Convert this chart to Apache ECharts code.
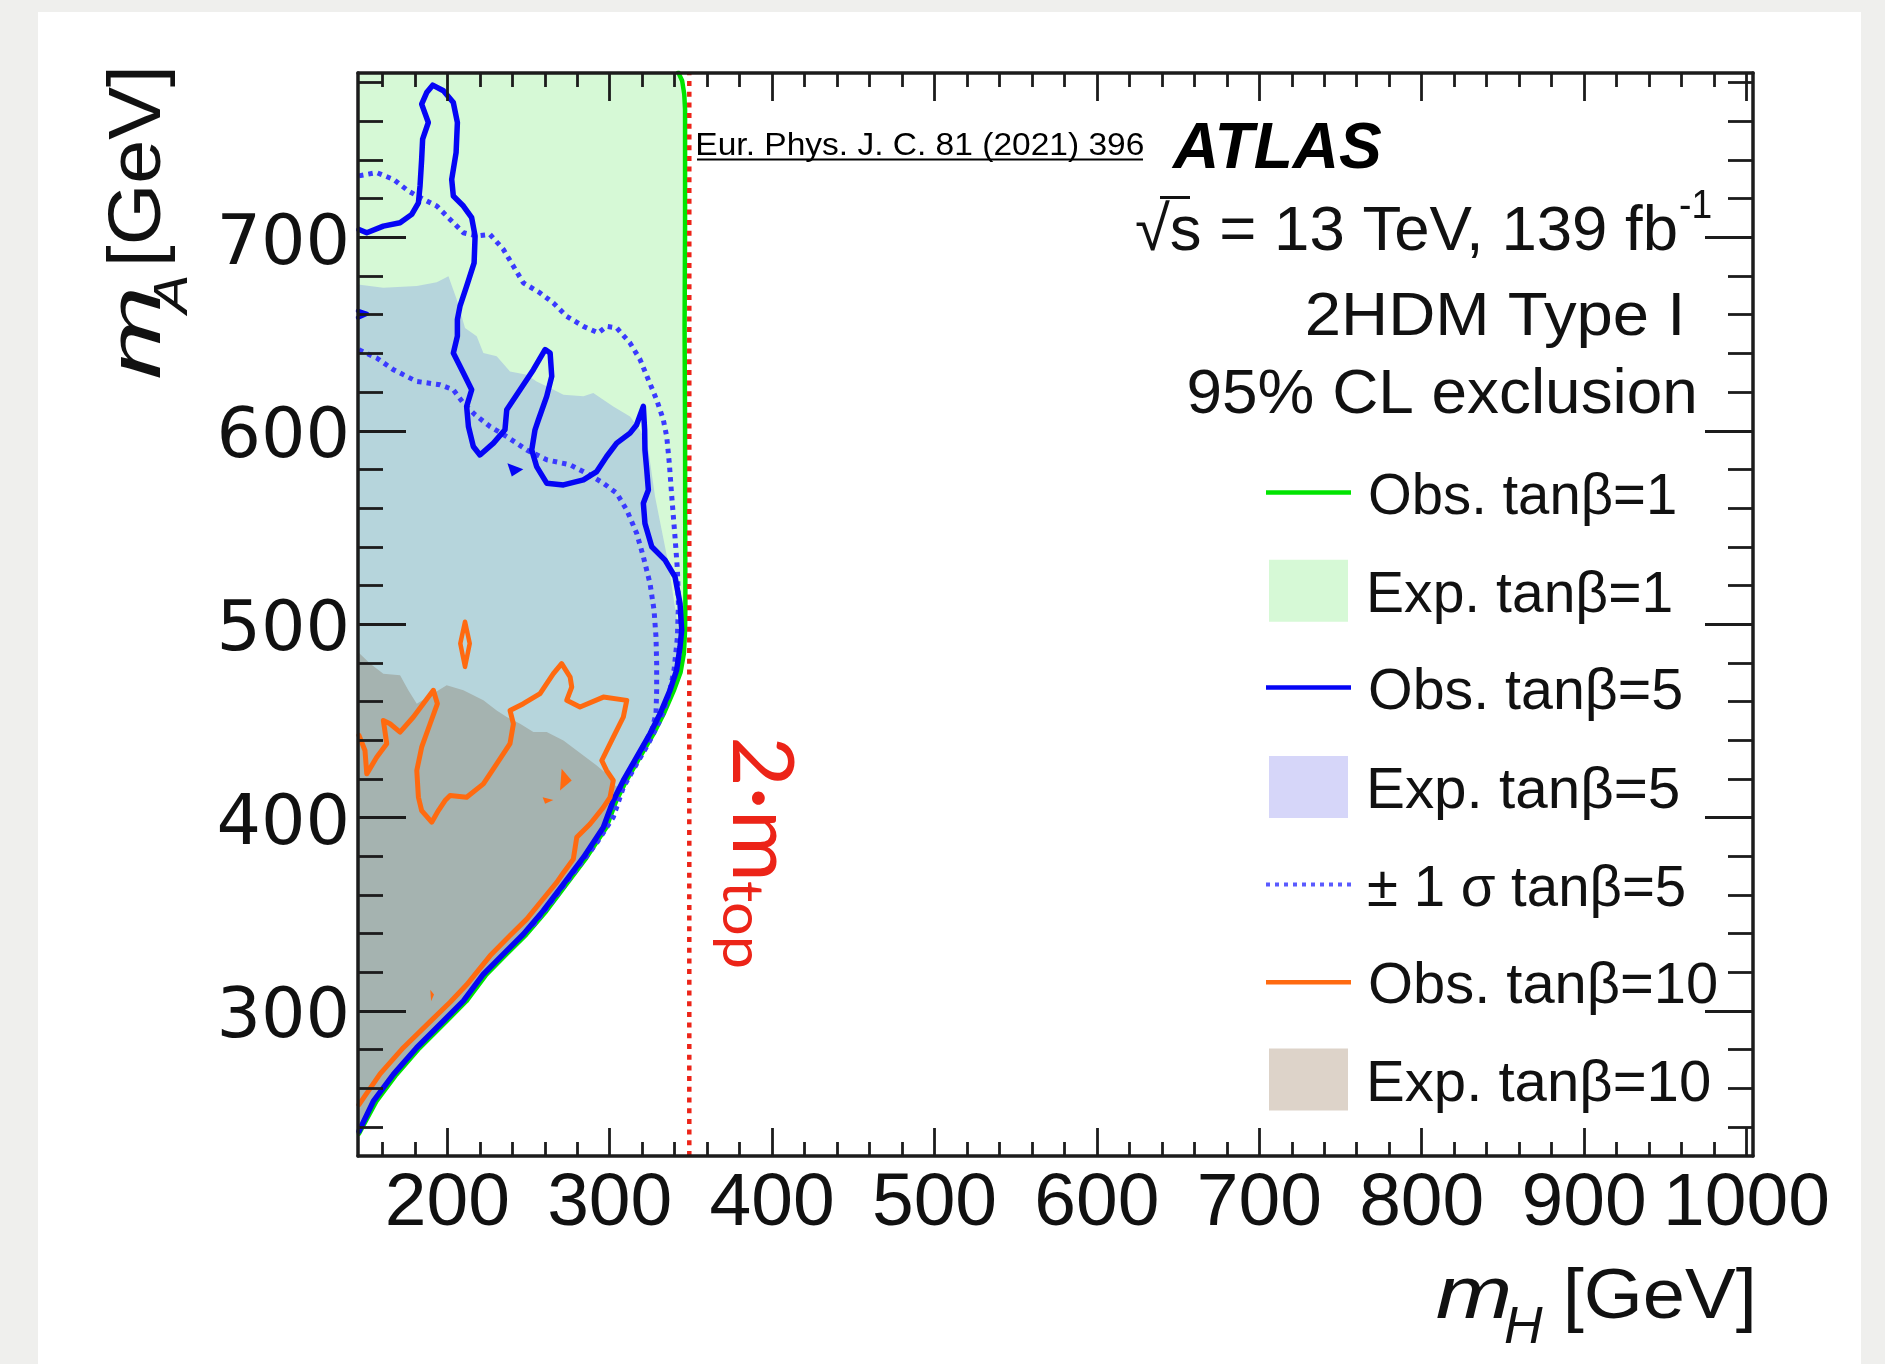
<!DOCTYPE html>
<html>
<head>
<meta charset="utf-8">
<title>2HDM Type I exclusion</title>
<script src="https://cdn.jsdelivr.net/npm/echarts@6.0.0/dist/echarts.min.js"></script>
<style>
html,body{margin:0;padding:0;background:#efefed;}
#chart{width:1885px;height:1364px;}
</style>
</head>
<body>
<div id="chart"></div>
<script>
// ---------------- axes ----------------
const xRange = [145, 1004];
const yRange = [225, 785];
const xMajorTicks = [200, 300, 400, 500, 600, 700, 800, 900, 1000];
const xMinorTicks = [160, 180, 220, 240, 260, 280, 320, 340, 360, 380, 420, 440, 460, 480, 520, 540, 560, 580,
  620, 640, 660, 680, 720, 740, 760, 780, 820, 840, 860, 880, 920, 940, 960, 980];
const yMajorTicks = [300, 400, 500, 600, 700];
const yMinorTicks = [240, 260, 280, 320, 340, 360, 380, 420, 440, 460, 480, 520, 540, 560, 580,
  620, 640, 660, 680, 720, 740, 760, 780];

// ---------------- data (m_H, m_A) in GeV ----------------
const twoMtopLine = [[349, 225], [349, 785]];

const obsTanb1 = [[342.2, 785.3], [344.6, 781], [345.9, 774], [346.4, 766], [346.4, 705.8], [346.1, 654], [346.4, 600.5],
  [346.5, 548.7], [346.6, 510], [346.4, 497], [345.7, 485], [343.6, 475], [339.4, 465.5], [333.2, 453.5], [326.8, 443],
  [318.4, 431], [310.2, 419], [304, 408.6], [297.9, 394.8], [285.6, 379.2], [273.3, 365.4], [260.9, 351.6], [248.6, 339.5],
  [236.3, 329.2], [224, 318.8], [211.7, 305], [199.4, 294.6], [182.9, 280.8], [168.6, 267], [156.3, 253.2], [145.6, 236.6]];

const expTanb1Region = [[145, 785.3], [342.2, 785.3], [344.6, 781], [345.9, 774], [346.4, 766], [346.4, 705.8], [346.1, 654],
  [346.4, 600.5], [346.5, 548.7], [346.6, 510], [346.4, 497], [345.7, 485], [343.6, 475], [339.4, 465.5], [333.2, 453.5],
  [326.8, 443], [318.4, 431], [310.2, 419], [304, 408.6], [297.9, 394.8], [285.6, 379.2], [273.3, 365.4], [260.9, 351.6],
  [248.6, 339.5], [236.3, 329.2], [224, 318.8], [211.7, 305], [199.4, 294.6], [182.9, 280.8], [168.6, 267], [156.3, 253.2],
  [145, 236.6]];

const expTanb5Region = [[145, 675.6], [160.6, 673.9], [181.2, 674.8], [193.5, 676.8], [200.7, 679.9], [205.8, 667.9],
  [210.9, 653.2], [218.1, 648.9], [222.2, 640.2], [230.4, 638.5], [238.6, 630.7], [248.9, 629.0], [255.0, 625.5],
  [263.3, 622.1], [271.5, 618.6], [283.8, 617.8], [289.9, 619.5], [302.2, 612.6], [312.5, 607.4], [318.7, 600.5],
  [323.8, 590.1], [327.9, 566.0], [332.0, 548.7], [336.1, 531.4], [339.2, 514.1], [342.3, 496.9], [344.0, 482],
  [343.6, 475], [339.4, 465.5], [333.2, 453.5], [326.8, 443], [318.4, 431], [310.2, 419], [304, 408.6], [297.9, 394.8],
  [285.6, 379.2], [273.3, 365.4], [260.9, 351.6], [248.6, 339.5], [236.3, 329.2], [224, 318.8], [211.7, 305],
  [199.4, 294.6], [182.9, 280.8], [168.6, 267], [156.3, 253.2], [145, 236.6]];

const expTanb10Region = [[145, 485.6], [152.4, 479.6], [160.6, 474.4], [170.9, 473.6], [176.0, 465.8], [181.2, 458.9],
  [191.4, 464.1], [199.6, 468.4], [209.9, 465.8], [222.2, 460.6], [230.4, 455.4], [236.6, 452.0], [244.8, 448.5],
  [253.0, 444.2], [261.2, 444.2], [271.5, 439.9], [283.8, 432.1], [292.0, 426.9], [299.2, 421.7], [303.5, 416.5],
  [307.5, 414.5], [304, 408.6], [297.9, 394.8], [285.6, 379.2], [273.3, 365.4], [260.9, 351.6], [248.6, 339.5],
  [236.3, 329.2], [224, 318.8], [211.7, 305], [199.4, 294.6], [182.9, 280.8], [168.6, 267], [156.3, 253.2], [145, 236.6]];

const obsTanb5 = [[145.6, 704.1], [150.4, 702.4], [160.6, 705.8], [170.9, 707.6], [178.1, 711.9], [182.2, 717.9],
  [183.2, 726.6], [184.2, 740.4], [184.8, 750.8], [188.3, 759.4], [184.2, 768.9], [187.3, 774.9], [191.0, 778.7],
  [197.6, 775.8], [203.7, 769.7], [206.2, 759.4], [205.4, 743.8], [202.7, 730.0], [203.7, 721.4], [209.9, 716.2],
  [215.0, 710.2], [217.1, 700.7], [216.5, 686.8], [211.9, 674.8], [207.8, 664.4], [206.2, 657.5], [206.2, 648.9],
  [203.7, 640.2], [209.9, 629.9], [215.0, 621.2], [211.9, 612.6], [213.0, 602.2], [216.0, 591.9], [220.1, 587.5],
  [228.4, 593.6], [235.5, 600.5], [236.6, 610.9], [244.8, 621.2], [253.0, 631.6], [260.2, 642.0], [263.3, 640.2],
  [264.3, 628.1], [261.2, 617.8], [256.1, 605.7], [254.0, 600.5], [252.0, 590.1], [255.0, 581.5], [261.2, 572.9],
  [271.5, 572.0], [283.8, 574.6], [292.0, 578.9], [298.1, 586.7], [304.3, 593.6], [312.5, 598.8], [316.5, 603],
  [320.7, 612.6], [321.5, 600.5], [321.7, 590.1], [322.8, 579.8], [323.8, 569.4], [320.7, 562.5], [321.7, 552.1],
  [325.9, 540.0], [334.1, 533.1], [340.2, 524.5], [343.3, 510.7], [344.3, 496.9], [343.3, 488.2], [341.2, 476.2],
  [337.1, 465.8], [331.0, 453.7], [324.8, 443.3], [316.6, 431.2], [308.4, 419.2], [302.2, 408.8], [296.1, 395.0],
  [283.8, 379.4], [271.5, 365.6], [259.1, 351.8], [246.8, 339.7], [234.5, 329.4], [222.2, 319.0], [209.9, 305.2],
  [197.6, 294.8], [181.1, 281.0], [166.8, 267.2], [154.5, 253.4], [145.6, 237.8]];
const obsTanb5EdgeBit = [[145, 662], [150.5, 660.5], [145, 658.5]];
const obsTanb5Island = [[237.0, 583.2], [246.8, 580.1], [239.7, 576.3]];

const sigmaUpTanb5 = [[145.6, 731.8], [156.5, 733.5], [166.8, 730.0], [176.0, 724.0], [185.3, 719.7], [193.5, 716.2],
  [201.7, 709.3], [209.9, 702.4], [218.1, 700.7], [226.3, 701.5], [234.5, 693.8], [240.7, 685.1], [246.8, 676.5],
  [257.1, 671.3], [265.3, 666.1], [273.5, 659.2], [283.8, 654.0], [293.0, 650.6], [298.1, 654.0], [304.3, 653.2],
  [312.5, 645.4], [318.7, 636.8], [323.8, 626.4], [328.9, 616.0], [333.0, 605.7], [335.1, 597.0], [336.7, 583.2],
  [338.2, 566.0], [340.2, 545.2], [341.7, 528.0], [342.3, 510.7], [341.7, 493.4], [339.6, 476.1], [336.1, 462.3],
  [331.0, 450.3], [323.8, 438.2], [316.6, 427.8], [308.4, 415.7], [302.2, 400.2], [291.5, 386.3], [277.2, 370.8],
  [264.8, 357.0], [252.5, 344]];
const sigmaDownTanb5 = [[145.6, 641.9], [156.5, 637.6], [166.8, 631.6], [181.2, 625.5], [195.5, 623.8], [203.7, 621.2],
  [209.9, 614.3], [217.1, 608.3], [226.3, 602.2], [236.6, 597.0], [248.9, 590.1], [261.2, 585.0], [275.6, 582.4],
  [285.8, 578.0], [296.1, 572.9], [304.3, 567.7], [310.5, 559.0], [316.6, 547.0], [320.7, 534.9], [324.8, 521.1],
  [327.3, 507.2], [328.5, 493.4], [328.9, 479.6], [328.9, 465.8], [328.5, 453.7], [325.9, 445.1], [320, 436], [313, 425]];

const obsTanb10 = [[145.6, 442.5], [149.3, 434.7], [150.4, 422.6], [156.5, 431.2], [162.7, 438.2], [160.6, 450.2],
  [164.7, 448.5], [170.9, 444.2], [179.1, 452.0], [191.4, 465.8], [193.9, 458.9], [189.4, 448.5], [184.2, 436.4],
  [181.2, 424.3], [182.2, 410.5], [184.2, 403.6], [190.4, 397.6], [194.5, 403.6], [198.6, 408.8], [201.7, 411.4],
  [211.9, 410.5], [222.2, 417.4], [230.4, 427.8], [238.6, 438.2], [240.7, 448.5], [238.6, 455.4], [246.8, 458.9],
  [257.1, 464.1], [265.3, 474.4], [270.4, 479.6], [275.6, 472.7], [276.6, 467.5], [273.5, 460.6], [281.7, 457.2],
  [296.1, 462.3], [310.5, 460.6], [308.4, 452.0], [302.2, 441.6], [295.1, 429.5], [298.1, 424.3], [302.2, 419.2],
  [300.2, 410.5], [296.1, 405.3], [287.9, 396.7], [279.7, 389.8], [277.6, 378.5], [271.5, 371.5], [267.4, 366.5],
  [259.1, 358.0], [248.9, 347.5], [238.6, 339.0], [226.3, 328.5], [211.9, 313.5], [201.7, 304.5], [189.4, 294.5],
  [172.9, 281.0], [158.6, 267.5], [145.6, 251.6]];
const obsTanb10Loop = [[210.9, 501.2], [213.8, 490], [210.9, 477.9], [208, 490], [210.9, 501.2]];
const obsTanb10IslandA = [[270.4, 425.2], [276.6, 419.2], [269.4, 414.0]];
const obsTanb10IslandB = [[258.7, 410.5], [265.3, 409.1], [260.2, 407.1]];
const obsTanb10IslandC = [[189.5, 311], [191.8, 308.5], [190, 305]];

// legend / labels
const legendLabels = ['Obs. tan\u03b2=1', 'Exp. tan\u03b2=1', 'Obs. tan\u03b2=5', 'Exp. tan\u03b2=5',
  '\u00b1 1 \u03c3 tan\u03b2=5', 'Obs. tan\u03b2=10', 'Exp. tan\u03b2=10'];
const headerLines = ['\u221as = 13 TeV, 139 fb', '2HDM Type I', '95% CL exclusion'];

// ---------------- styling ----------------
const C = {
  exp1: '#d6f9d6', exp5blend: '#b6d5dc', exp10blend: '#a5b3b0',
  exp5: '#d6d6f9', exp10: '#ddd3c9',
  obs1: '#00e400', obs5: '#0505f5', sig5: '#3a3aff', obs10: '#ff6a10', red: '#ec2418', frame: '#1c1c1c'
};

const mctx = document.createElement('canvas').getContext('2d');
function midToBase(font) {
  mctx.font = font; mctx.textBaseline = 'middle';
  return mctx.measureText('H').actualBoundingBoxDescent;
}
// place text so that its ink spans [a,b] along reading direction, baseline at `base`
function fitText(text, font, color, a, b, base, rot) {
  mctx.font = font; mctx.textBaseline = 'alphabetic';
  const m = mctx.measureText(text);
  const inkL = m.actualBoundingBoxLeft, inkR = m.actualBoundingBoxRight;
  const mid = midToBase(font);
  const s = Math.abs(b - a) / (inkL + inkR);
  const el = { type: 'text', silent: true, z: 50, scaleX: s, scaleY: 1,
    style: { text: text, font: font, fill: color, textAlign: 'left', textVerticalAlign: 'middle' } };
  if (!rot) { el.x = a + inkL * s; el.y = base - mid; }
  else if (rot === 'cw') { el.rotation = -Math.PI / 2; el.y = a + inkL * s; el.x = base + mid; }
  else { el.rotation = Math.PI / 2; el.y = a - inkL * s; el.x = base - mid; }
  return el;
}

// tick label placement helpers
const xLabFont = '75px "Liberation Sans"';
mctx.font = xLabFont; mctx.textBaseline = 'middle';
const xAsc = mctx.measureText('0').actualBoundingBoxAscent;
const xLh = mctx.measureText('\u56fd').width;
const xLabMargin = Math.max(0, 1173 - 1156 - xLh / 2 + xAsc);

function axisBase(extra) {
  return Object.assign({ type: 'value', z: 10, splitLine: { show: false }, axisPointer: { show: false } }, extra);
}
const tickStyle = { color: C.frame, width: 2.8 };
const lineStyleFrame = { color: C.frame, width: 3.5 };

const xAxes = [
  axisBase({ min: xRange[0], max: xRange[1], position: 'bottom',
    axisLine: { show: true, onZero: false, lineStyle: lineStyleFrame },
    axisTick: { show: true, inside: true, length: 28, customValues: xMajorTicks, lineStyle: tickStyle },
    axisLabel: { show: true, customValues: xMajorTicks, margin: xLabMargin, fontSize: 75,
      fontFamily: '"Liberation Sans", Arial, sans-serif', color: '#111', formatter: v => String(v) } }),
  axisBase({ min: xRange[0], max: xRange[1], position: 'bottom',
    axisLine: { show: false }, axisLabel: { show: false },
    axisTick: { show: true, inside: true, length: 14, customValues: xMinorTicks, lineStyle: tickStyle } }),
  axisBase({ min: xRange[0], max: xRange[1], position: 'top',
    axisLine: { show: true, onZero: false, lineStyle: lineStyleFrame }, axisLabel: { show: false },
    axisTick: { show: true, inside: true, length: 28, customValues: xMajorTicks, lineStyle: tickStyle } }),
  axisBase({ min: xRange[0], max: xRange[1], position: 'top',
    axisLine: { show: false }, axisLabel: { show: false },
    axisTick: { show: true, inside: true, length: 14, customValues: xMinorTicks, lineStyle: tickStyle } })
];
const yAxes = [
  axisBase({ min: yRange[0], max: yRange[1], position: 'left',
    axisLine: { show: true, onZero: false, lineStyle: lineStyleFrame },
    axisTick: { show: true, inside: true, length: 48, customValues: yMajorTicks, lineStyle: tickStyle },
    axisLabel: { show: true, customValues: yMajorTicks, margin: 8, fontSize: 70, verticalAlign: 'top', lineHeight: 16,
      fontFamily: '"DejaVu Sans", sans-serif', color: '#111', formatter: v => String(v) } }),
  axisBase({ min: yRange[0], max: yRange[1], position: 'left',
    axisLine: { show: false }, axisLabel: { show: false },
    axisTick: { show: true, inside: true, length: 25, customValues: yMinorTicks, lineStyle: tickStyle } }),
  axisBase({ min: yRange[0], max: yRange[1], position: 'right',
    axisLine: { show: true, onZero: false, lineStyle: lineStyleFrame }, axisLabel: { show: false },
    axisTick: { show: true, inside: true, length: 48, customValues: yMajorTicks, lineStyle: tickStyle } }),
  axisBase({ min: yRange[0], max: yRange[1], position: 'right',
    axisLine: { show: false }, axisLabel: { show: false },
    axisTick: { show: true, inside: true, length: 25, customValues: yMinorTicks, lineStyle: tickStyle } })
];

function polygonSeries(name, points, color, z) {
  return {
    type: 'custom', name: name, z: z, silent: true, xAxisIndex: 0, yAxisIndex: 0,
    data: points,
    renderItem: function (params, api) {
      if (params.dataIndex !== 0) return null;
      const pts = points.map(p => api.coord(p));
      return { type: 'polygon', shape: { points: pts }, style: { fill: color, stroke: null } };
    }
  };
}
function lineSeries(name, points, color, width, dash, z) {
  return {
    type: 'line', name: name, data: points, symbol: 'none', z: z, silent: true,
    xAxisIndex: 0, yAxisIndex: 0,
    lineStyle: { color: color, width: width, type: dash || 'solid', cap: dash ? 'butt' : 'round', join: 'round' }
  };
}

const series = [
  polygonSeries('Exp. tanβ=1', expTanb1Region, C.exp1, 1),
  polygonSeries('Exp. tanβ=5', expTanb5Region, C.exp5blend, 1),
  polygonSeries('Exp. tanβ=10', expTanb10Region, C.exp10blend, 1),
  lineSeries('Obs. tanβ=1', obsTanb1, C.obs1, 4.5, null, 3),
  lineSeries('+1σ tanβ=5', sigmaUpTanb5, C.sig5, 5, [4.5, 5], 3),
  lineSeries('-1σ tanβ=5', sigmaDownTanb5, C.sig5, 5, [4.5, 5], 3),
  lineSeries('Obs. tanβ=5', obsTanb5, C.obs5, 5.5, null, 4),
  lineSeries('Obs. tanβ=5 edge', obsTanb5EdgeBit, C.obs5, 4.5, null, 4),
  polygonSeries('Obs. tanβ=5 island', obsTanb5Island, C.obs5, 4),
  lineSeries('Obs. tanβ=10', obsTanb10, C.obs10, 5, null, 5),
  lineSeries('Obs. tanβ=10 loop', obsTanb10Loop, C.obs10, 4.5, null, 5),
  polygonSeries('Obs. tanβ=10 island A', obsTanb10IslandA, C.obs10, 5),
  polygonSeries('Obs. tanβ=10 island B', obsTanb10IslandB, C.obs10, 5),
  polygonSeries('Obs. tanβ=10 island C', obsTanb10IslandC, C.obs10, 5),
  lineSeries('2 m_top', twoMtopLine, C.red, 4.5, [5, 5.7], 6)
];

// ---------------- graphic: background, texts, legend ----------------
const graphics = [
  { type: 'rect', silent: true, z: -100, shape: { x: 38, y: 12, width: 1823, height: 1352 }, style: { fill: '#ffffff' } }
];
const F = '"Liberation Sans", Arial, sans-serif';
// reference / experiment labels
graphics.push(fitText('Eur. Phys. J. C. 81 (2021) 396', '31px "Liberation Sans Narrow", "Liberation Sans", sans-serif', '#000', 697.5, 1143, 155));
graphics.push({ type: 'line', silent: true, z: 50, shape: { x1: 697, y1: 159.5, x2: 1143, y2: 159.5 }, style: { stroke: '#000', lineWidth: 2 } });
graphics.push(fitText('ATLAS', 'italic bold 65px ' + F, '#000', 1171, 1381.5, 168));
graphics.push(fitText(headerLines[0], '63px ' + F, '#111', 1136, 1676, 250));
graphics.push({ type: 'line', silent: true, z: 50, shape: { x1: 1160, y1: 197.5, x2: 1190, y2: 197.5 }, style: { stroke: '#111', lineWidth: 3 } });
graphics.push(fitText('-1', '40px ' + F, '#111', 1680, 1711, 218));
graphics.push(fitText(headerLines[1], '61px ' + F, '#111', 1308, 1680, 335));
graphics.push(fitText(headerLines[2], '63px ' + F, '#111', 1188.6, 1693.7, 413));

// legend
const legendRows = [492.5, 590.8, 687.6, 787, 884.5, 982.2, 1079.6];
const legendTextLeft = [1370, 1370, 1370, 1370, 1368, 1370, 1370];
const legendTextRight = [1675, 1671, 1681, 1678, 1684, 1716, 1709];
const legendKinds = ['line', 'box', 'line', 'box', 'dot', 'line', 'box'];
const legendColors = [C.obs1, C.exp1, C.obs5, C.exp5, '#5a5aff', C.obs10, C.exp10];
legendLabels.forEach((lab, i) => {
  const yc = legendRows[i];
  if (legendKinds[i] === 'box') {
    graphics.push({ type: 'rect', silent: true, z: 50, shape: { x: 1269, y: yc - 31, width: 79, height: 62 }, style: { fill: legendColors[i] } });
  } else {
    graphics.push({ type: 'line', silent: true, z: 50, shape: { x1: 1266, y1: yc, x2: 1351, y2: yc },
      style: { stroke: legendColors[i], lineWidth: legendKinds[i] === 'dot' ? 4 : 4.5, lineDash: legendKinds[i] === 'dot' ? [4, 5] : null } });
  }
  graphics.push(fitText(lab, '58px ' + F, '#111', legendTextLeft[i], legendTextRight[i], yc + 21));
});

// axis titles
graphics.push(fitText('m', 'italic 74px ' + F, '#111', 1437, 1509, 1318));
graphics.push(fitText('H', 'italic 52px ' + F, '#111', 1505, 1543, 1343));
graphics.push(fitText('[GeV]', '70px ' + F, '#111', 1567, 1752, 1318));
graphics.push(fitText('m', 'italic 74px ' + F, '#111', 378, 290, 160, 'ccw'));
graphics.push(fitText('A', 'italic 48px ' + F, '#111', 317, 277, 187, 'ccw'));
graphics.push(fitText('[GeV]', '74px ' + F, '#111', 262, 70, 160, 'ccw'));

// 2 m_top label
graphics.push(fitText('2\u00b7m', '86px Lato, "Open Sans", sans-serif', C.red, 740, 877, 733, 'cw'));
graphics.push(fitText('top', '57px Lato, "Open Sans", sans-serif', C.red, 882, 967, 723, 'cw'));

const chart = echarts.init(document.getElementById('chart'), null, { renderer: 'canvas', width: 1885, height: 1364 });
chart.setOption({
  animation: false,
  backgroundColor: '#efefed',
  grid: { left: 358, right: 132, top: 73, bottom: 208, containLabel: false, outerBoundsMode: 'none' },
  xAxis: xAxes,
  yAxis: yAxes,
  series: series,
  graphic: { elements: graphics }
});
</script>
</body>
</html>
